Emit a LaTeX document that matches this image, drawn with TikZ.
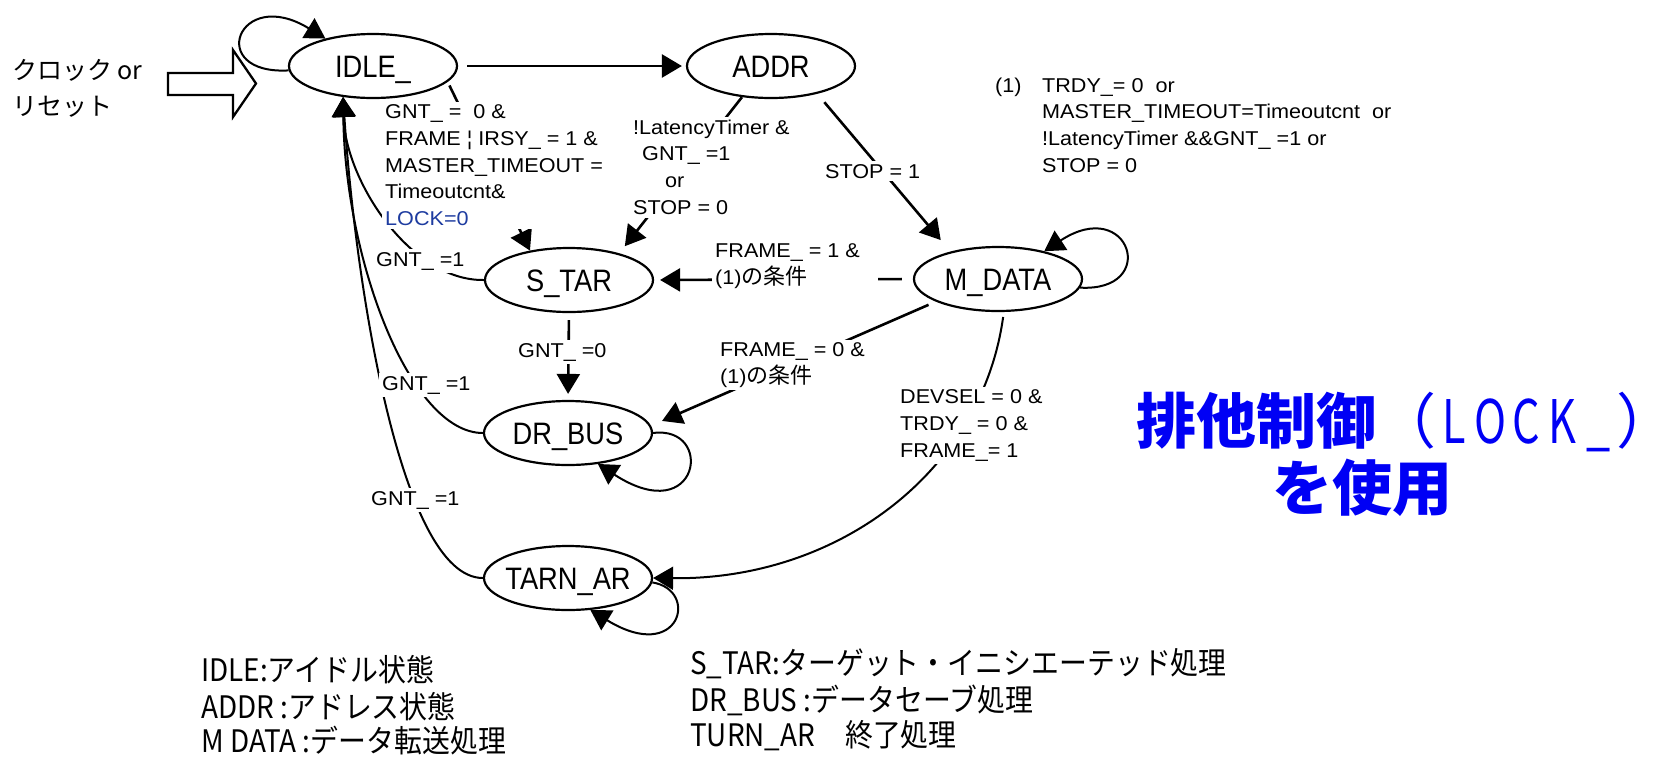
\documentclass[tikz,border=0pt]{standalone}
\usepackage{fontspec}
\usepackage{graphicx}
\setmainfont{Liberation Sans}
\newfontfamily\cjk{Noto Sans CJK JP}
\newfontfamily\lblfont[FakeStretch=1.08]{Liberation Sans}
\newfontfamily\statefont[FakeStretch=0.88]{Liberation Sans}
\newfontfamily\legfont[FakeStretch=0.9]{Noto Sans CJK JP}
\usetikzlibrary{arrows.meta,shapes.geometric}
\definecolor{lockblue}{RGB}{30,60,160}
\definecolor{headblue}{RGB}{0,0,245}
% state names are centred without widening the ellipse
\newcommand\stname[1]{\makebox[0pt]{#1}}
% Japanese words inside the transition labels
\newcommand\jp[1]{{\cjk\fontsize{22}{26.75}\selectfont #1}}
% half-width letters of LOCK_ in the heading
\newcommand\lkch[1]{\makebox[36pt]{\scalebox{0.72}[1]{#1}}}
\begin{document}
\begin{tikzpicture}[x=1pt,y=-1pt,
  state/.style={ellipse, draw, line width=2.2pt, minimum width=168pt,
    minimum height=64pt, inner sep=0pt, text height=22pt, text depth=0pt,
    font=\statefont\fontsize{31}{31}\selectfont},
  edge/.style={line width=2.6pt, -{Triangle[length=20pt,width=23pt]}},
  curveline/.style={line width=2pt, -{Triangle[length=20pt,width=23pt]}},
  lbl/.style={font=\lblfont\fontsize{20}{26.75}\selectfont, align=left,
    inner sep=3pt, fill=white, anchor=north west},
  lblone/.style={font=\lblfont\fontsize{20}{26.75}\selectfont,
    inner sep=3pt, fill=white, anchor=base west},
  legend/.style={font=\legfont\fontsize{31}{36}\selectfont, anchor=west, inner sep=0pt},
  sidetext/.style={font=\cjk\fontsize{25}{25}\selectfont, anchor=west, inner sep=0pt},
]
\useasboundingbox (0,0) rectangle (1676,756);

% states
\node[state] (idle)  at (373,66)  {\stname{IDLE\_}};
\node[state] (addr)  at (771,66)  {\stname{ADDR}};
\node[state] (star)  at (569,280) {\stname{S\_TAR}};
\node[state] (mdata) at (998,279) {\stname{M\_DATA}};
\node[state] (drbus) at (568,433) {\stname{DR\_BUS}};
\node[state] (tarn)  at (568,578) {\stname{TARN\_AR}};

% clock / reset input
\node[sidetext] (clk) at (12,70)  {クロック or};
\node[sidetext] (rst) at (12,107) {リセット};
\draw[line width=2.3pt, fill=white] (168,73) -- (233,73) -- (233,50) -- (256,83.5)
  -- (233,117) -- (233,95) -- (168,95) -- cycle;

% transitions
\draw[edge, shorten <=9pt, shorten >=4pt] (idle.east) -- (addr.west);
\draw[edge, shorten <=4pt] (idle.-12) -- (star.143);
\draw[edge, shorten >=9pt] (addr.-133) -- (star.28);
\draw[edge, shorten <=11pt, shorten >=15pt] (addr.-31) -- (mdata.150);
\draw[edge, shorten <=7pt, shorten >=6pt] (star.south) -- (drbus.north);
\draw[edge, shorten <=11pt, shorten >=6pt] (mdata.west) -- (star.east);
\draw[edge, shorten <=8pt, shorten >=12pt] (mdata.200) -- (drbus.5);
\draw[curveline, shorten <=5pt] (mdata.-80) .. controls (982,470) and (840,580) .. (tarn.east);

% returns to IDLE_
\draw[curveline] (star.west)  .. controls (410,281) and (345,180) .. (idle.-134);
\draw[curveline] (drbus.west) .. controls (410,433) and (345,260) .. (idle.-134);
\draw[curveline] (tarn.west)  .. controls (400,578) and (355,280) .. (idle.-134);

% self loops
\draw[curveline] (idle.183)  .. controls (205,75) and (238,-15) .. (idle.150);
\draw[curveline] (mdata.-6)  .. controls (1160,292) and (1130,195) .. (mdata.31);
\draw[curveline] (drbus.east) .. controls (715,425) and (700,530) .. (drbus.-46);
\draw[curveline] (tarn.-3)   .. controls (700,590) and (680,665) .. (tarn.-55);

% transition conditions
\node[lbl] (lidle) at (382,101.4) {GNT\_ =~~0 \&\\FRAME ¦ IRSY\_ = 1 \&\\MASTER\_TIMEOUT =\\Timeoutcnt\&\\\textcolor{lockblue}{LOCK=0}};
\node[lbl] (laddr) at (630,116.4) {!LatencyTimer \&\\\hspace*{9pt}GNT\_ =1\\\hspace*{32pt}or\\STOP = 0};
\node[lblone] (lstop) at (822,178) {STOP = 1};
\node[lbl] (lfone) at (712,240.4) {\makebox[160pt][l]{FRAME\_ = 1 \&}\\(1)\jp{の条件}};
\node[lblone] (lgzero) at (515,357) {GNT\_ =0};
\node[lbl] (lfzero) at (717,339.4) {FRAME\_ = 0 \&\\(1)\jp{の条件}};
\node[lbl] (ldev) at (897,386.4) {DEVSEL = 0 \&\\TRDY\_ = 0 \&\\FRAME\_= 1};
\node[lblone] (lga) at (373,266) {GNT\_ =1};
\node[lblone] (lgb) at (379,390) {GNT\_ =1};
\node[lblone] (lgc) at (368,505) {GNT\_ =1};

% condition (1)
\node[lbl, fill=none] (cond) at (992,74.4) {\makebox[47pt][l]{(1)}TRDY\_= 0~~or\\\hspace*{47pt}MASTER\_TIMEOUT=Timeoutcnt~~or\\\hspace*{47pt}!LatencyTimer \&\&GNT\_ =1 or\\\hspace*{47pt}STOP = 0};

% heading
\node[anchor=west, inner sep=0pt, text=headblue, font=\cjk\fontsize{60}{60}\selectfont] (headone) at (1136,422)
  {{\bfseries 排他制御}（\lkch{L}\lkch{O}\lkch{C}\lkch{K}\lkch{\_}）};
\node[anchor=west, inner sep=0pt, text=headblue, font=\cjk\bfseries\fontsize{60}{60}\selectfont] (headtwo) at (1272,488) {を使用};

% legend
\node[legend] (lgidle) at (201,670) {IDLE:アイドル状態};
\node[legend] (lgaddr) at (201,707) {ADDR :アドレス状態};
\node[legend] (lgmdat) at (201,741) {M DATA :データ転送処理};
\node[legend] (lgstar) at (690,664) {S\_TAR:ターゲット・イニシエーテッド処理};
\node[legend] (lgdrbs) at (690,700) {DR\_BUS :データセーブ処理};
\node[legend] (lgtarn) at (690,736) {TURN\_AR\hspace{30pt}終了処理};
\end{tikzpicture}
\end{document}
